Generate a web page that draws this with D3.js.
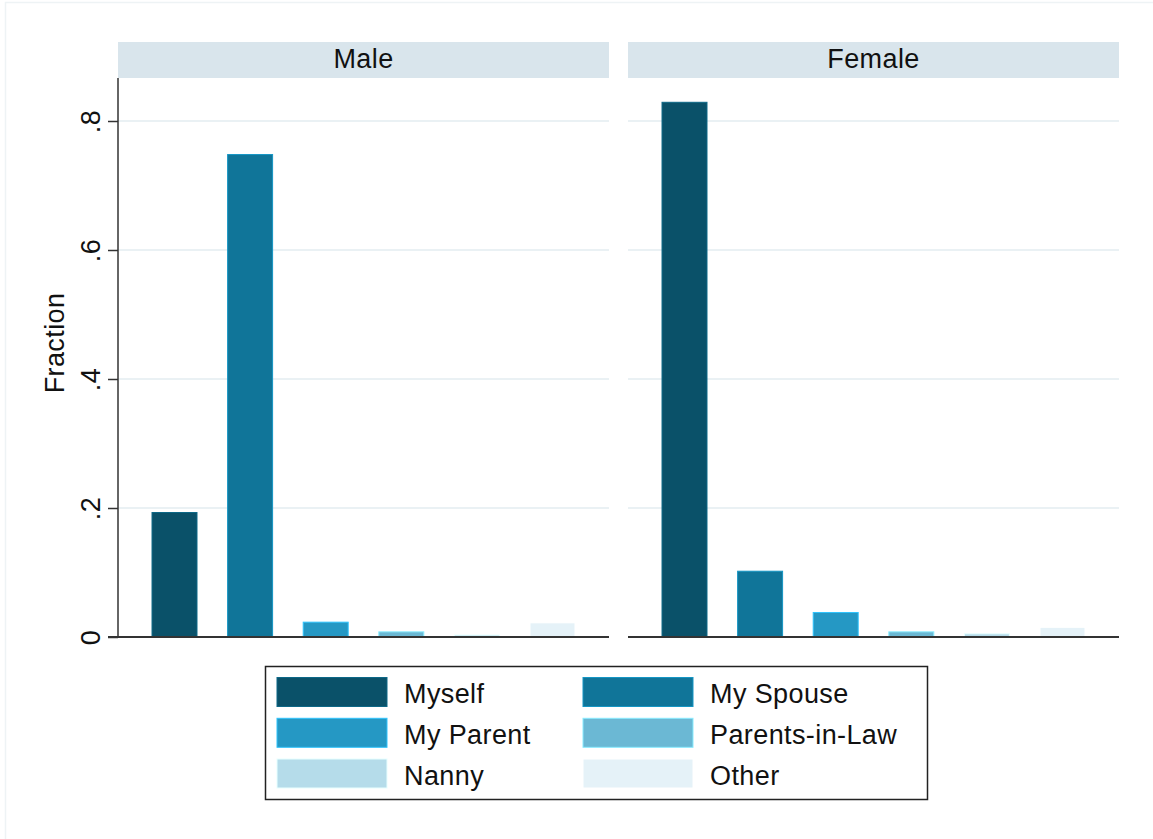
<!DOCTYPE html>
<html>
<head>
<meta charset="utf-8">
<script src="https://cdn.jsdelivr.net/npm/d3@7"></script>
<style>
  body { margin: 0; background: #fff; }
  svg { display: block; font-family: 'Liberation Sans', Arial, Helvetica, sans-serif; }
  svg text { letter-spacing: 0.4px; }
</style>
</head>
<body>
<div class="chart"></div>
<script>
// data
const panels = ['Male', 'Female']
const categories = ['Myself', 'My Spouse', 'My Parent', 'Parents-in-Law', 'Nanny', 'Other']
const maleValues = [0.193, 0.748, 0.023, 0.008, 0.003, 0.022]
const femaleValues = [0.829, 0.102, 0.038, 0.008, 0.005, 0.015]
const yTicks = [0, 0.2, 0.4, 0.6, 0.8]
const yTickLabels = ['0', '.2', '.4', '.6', '.8']
const colors = ['#0a5169', '#107599', '#2598c4', '#6bb8d4', '#b5dcea', '#e5f2f8']

const width = 1153
const height = 839
const panelWidth = 491
const panelLeft = [118, 628]
const headerTop = 42
const plotTop = 78
const plotBottom = 637
const fontSize = 27

const svg = d3
  .select('.chart')
  .append('svg')
  .attr('width', width)
  .attr('height', height)

// faint outer frame
svg.append('rect')
  .attr('x', 5.5).attr('y', 2.5)
  .attr('width', 1160).attr('height', 850)
  .attr('fill', 'none')
  .attr('stroke', '#eef3f5')
  .attr('stroke-width', 1.5)

const yScale = d3.scaleLinear().domain([0, 0.8]).range([plotBottom, 121])

const xScale = d3
  .scaleBand()
  .domain(categories)
  .range([0, panelWidth])
  .paddingInner(0.405)
  .paddingOuter(0.45)

const color = d3.scaleOrdinal().domain(categories).range(colors)

const panelData = [maleValues, femaleValues]

panels.forEach((name, p) => {
  const g = svg.append('g').attr('transform', `translate(${panelLeft[p]}, 0)`)

  // header strip
  g.append('rect')
    .attr('x', 0).attr('y', headerTop)
    .attr('width', panelWidth).attr('height', plotTop - headerTop)
    .attr('fill', '#d9e5ec')
  g.append('text')
    .attr('x', panelWidth / 2).attr('y', 68)
    .attr('text-anchor', 'middle')
    .attr('font-size', fontSize)
    .attr('fill', '#111')
    .text(name)

  // gridlines
  g.selectAll('.grid')
    .data(yTicks.filter(d => d > 0))
    .enter()
    .append('line')
    .attr('class', 'grid')
    .attr('x1', 0).attr('x2', panelWidth)
    .attr('y1', d => yScale(d)).attr('y2', d => yScale(d))
    .attr('stroke', '#eaf1f4')
    .attr('stroke-width', 2)

  // bars
  g.selectAll('.bar')
    .data(categories.map((c, i) => ({ cat: c, value: panelData[p][i] })))
    .enter()
    .append('rect')
    .attr('class', 'bar')
    .attr('x', d => xScale(d.cat))
    .attr('width', xScale.bandwidth())
    .attr('y', d => yScale(d.value))
    .attr('height', d => yScale(0) - yScale(d.value))
    .attr('fill', d => color(d.cat))
    .attr('stroke', d => d3.color(color(d.cat)).brighter(0.7))
    .attr('stroke-width', 1)

  // x axis baseline
  g.append('line')
    .attr('x1', p === 0 ? -10 : 0).attr('x2', panelWidth)
    .attr('y1', yScale(0)).attr('y2', yScale(0))
    .attr('stroke', '#333')
    .attr('stroke-width', 2)
})

// y axis on the left panel
const yAxis = svg
  .append('g')
  .attr('transform', `translate(${panelLeft[0]}, 0)`)
  .call(d3.axisLeft(yScale)
    .tickValues(yTicks)
    .tickSize(10)
    .tickSizeOuter(0)
    .tickFormat((d, i) => yTickLabels[i]))

yAxis.select('.domain').remove()
yAxis.append('line')
  .attr('x1', 0).attr('x2', 0)
  .attr('y1', plotTop).attr('y2', plotBottom)
  .attr('stroke', '#333')
  .attr('stroke-width', 1.5)
yAxis.selectAll('.tick line').attr('stroke', '#333').attr('stroke-width', 1.5)
yAxis.selectAll('.tick text')
  .attr('x', 0)
  .attr('y', -18)
  .attr('dy', 0)
  .attr('text-anchor', 'middle')
  .attr('transform', 'rotate(-90)')
  .attr('font-size', fontSize)
  .attr('fill', '#111')
  .style('font-family', "'Liberation Sans', Arial, sans-serif")

svg.append('text')
  .attr('transform', `translate(64, 343) rotate(-90)`)
  .attr('text-anchor', 'middle')
  .attr('font-size', fontSize)
  .attr('fill', '#111')
  .text('Fraction')

/* Legend */
const legend = svg.append('g')
legend.append('rect')
  .attr('x', 265.5).attr('y', 666.5)
  .attr('width', 662).attr('height', 133)
  .attr('fill', '#fff')
  .attr('stroke', '#222')
  .attr('stroke-width', 1.5)

const colX = [277, 583]
const rowY = [677.5, 718.3, 759]
const items = legend
  .selectAll('.legendItem')
  .data(categories)
  .enter()
  .append('g')
  .attr('class', 'legendItem')
  .attr('transform', (d, i) => `translate(${colX[i % 2]}, ${rowY[Math.floor(i / 2)]})`)

items.append('rect')
  .attr('width', 110).attr('height', 29)
  .attr('fill', d => color(d))
  .attr('stroke', d => d3.color(color(d)).brighter(0.7))
  .attr('stroke-width', 1)

items.append('text')
  .attr('x', 127).attr('y', 25.5)
  .attr('font-size', fontSize)
  .attr('fill', '#111')
  .text(d => d)
</script>
</body>
</html>
